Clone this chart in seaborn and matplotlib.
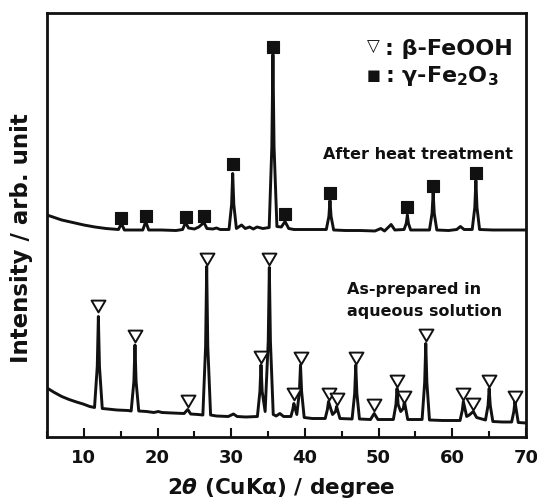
import numpy as np
import pandas as pd
import matplotlib
matplotlib.use("Agg")
import matplotlib.pyplot as plt
from matplotlib.path import Path
import seaborn as sns

# ---------------- data (2theta in degrees, intensity in arbitrary units) ----------------
# As-prepared in aqueous solution (lower trace), vertices
asprep_x = [5.0, 6.0, 7.0, 8.0, 9.0, 9.9, 10.8, 11.45, 11.82, 11.97, 12.12, 12.5,
            13.2, 14.5, 16.0, 16.42, 16.79, 16.94, 17.09, 17.45,
            18.5, 19.5, 20.1, 20.6, 22.0, 23.6, 24.1, 24.5, 25.5, 26.15,
            26.52, 26.67, 26.82, 27.2, 28.0, 29.6, 30.3, 30.8, 32.0, 33.55,
            33.89, 34.04, 34.2, 34.6, 35.02, 35.17, 35.32, 35.7,
            36.1, 36.6, 37.1, 38.1, 38.35, 38.5, 38.9, 39.25, 39.4, 39.55, 39.9,
            41.0, 42.75, 43.05, 43.2, 43.75, 44.15, 44.3, 44.75, 46.4,
            46.75, 46.9, 47.05, 47.4, 48.9, 49.4, 49.9, 52.0,
            52.35, 52.5, 52.65, 53.0, 53.35, 53.5, 53.95, 55.9,
            56.25, 56.4, 56.55, 56.9, 58.7, 61.05,
            61.35, 61.5, 61.95, 62.3, 62.85, 63.3, 64.5,
            64.85, 65.0, 65.15, 65.5, 66.8, 68.05, 68.35, 68.5, 68.95, 70.0]
asprep_y = [48.5, 44, 40, 37, 34.5, 32.5, 30, 29, 70, 120, 70, 28,
            27.5, 26.5, 26, 25.5, 55, 91.5, 55, 25.5,
            25, 24, 25, 24, 23.5, 23, 27, 22.5, 22, 21.5,
            90, 170, 90, 21.5, 20.5, 20, 22.5, 20, 19.5, 20,
            45, 71.5, 45, 25, 95, 169, 95, 22,
            20.5, 23, 20, 20, 27, 33, 22, 45, 71.5, 45, 19,
            18, 18, 27, 35, 22, 25, 30, 18, 17.5,
            43, 71.5, 43, 17.5, 17, 23, 17, 17,
            32, 48, 32, 25, 28, 35, 17, 17,
            54, 93, 54, 16.5, 16, 16,
            26, 35, 20, 21.5, 25, 19, 16.5,
            31, 48, 31, 15, 14.5, 14.5, 25, 35, 14, 13.5]

# After heat treatment (upper trace)
heat_x = [5.0, 6.0, 7.0, 8.5, 10.0, 11.5, 13.0, 14.7, 15.1, 15.5, 17.0, 18.0, 18.4, 18.8,
          20.5, 22.5, 23.4, 23.8, 24.2, 25.0, 25.6, 26.3, 26.7, 27.5, 28.0, 28.5, 29.7,
          30.05, 30.2, 30.35, 30.7, 31.4, 31.9, 32.5, 33.0, 33.5, 34.3, 35.15,
          35.51, 35.66, 35.81, 36.2, 36.8, 37.3, 37.8, 38.5, 40.0, 42.9,
          43.25, 43.4, 43.55, 43.9, 45.5, 47.5, 49.5, 50.3, 50.8, 51.7, 52.2, 53.45,
          53.75, 53.9, 54.05, 54.35, 56.9,
          57.25, 57.4, 57.55, 57.9, 59.5, 60.6, 61.1, 61.6, 62.7,
          63.05, 63.2, 63.35, 63.7, 65.5, 67.5, 70.0]
heat_y = [221.5, 219, 216.5, 214, 211.5, 209.5, 208, 207, 213, 206.5, 206.5, 206.5, 215, 206.5,
          206.5, 206, 207, 214, 208.5, 207.5, 209.5, 214, 208, 207.5, 208.5, 207, 207,
          232, 263, 232, 208, 211.5, 208, 209.5, 207.5, 209.5, 208, 209,
          290, 382, 290, 210, 209.5, 215, 208, 207, 207, 207,
          220, 236, 220, 206.5, 206, 206, 205.5, 208, 205.5, 212, 206.5, 207,
          213, 221.5, 213, 206.5, 206.5,
          223, 244, 223, 206.5, 206, 207, 210, 207, 207,
          229, 256, 229, 207, 206.5, 206.5, 206.5]

# Phase markers
beta_x = [11.97, 16.94, 24.1, 26.67, 34.04, 35.17, 38.5, 39.4, 43.2, 44.3, 46.9,
          49.4, 52.5, 53.5, 56.4, 61.5, 62.85, 65.0, 68.5]
beta_y = [130.5, 100.5, 36, 177.5, 79.5, 177.5, 42.5, 79, 43, 37.5, 79,
          31.5, 55.5, 40, 101.5, 43, 33, 55.5, 40]
gamma_x = [15.1, 18.4, 23.8, 26.3, 30.2, 35.66, 37.3, 43.4, 53.9, 57.4, 63.2]
gamma_y = [218.8, 220.5, 219.8, 220.5, 272.5, 389.6, 223.0, 243.8, 229.2, 250.8, 263.2]

x_major = [10, 20, 30, 40, 50, 60, 70]
x_minor = [5, 15, 25, 35, 45, 55, 65]

# ---------------- style ----------------
sns.set_theme(style="white")
plt.rcParams['font.family'] = ['DejaVu Sans']
plt.rcParams['font.weight'] = 'bold'
plt.rcParams['mathtext.fontset'] = 'custom'
plt.rcParams['mathtext.rm'] = 'DejaVu Sans:bold'
plt.rcParams['mathtext.it'] = 'DejaVu Sans:italic'
plt.rcParams['mathtext.bf'] = 'DejaVu Sans:bold'

INK = '#111111'
fig = plt.figure(figsize=(5.37, 5.01), dpi=100)
ax = fig.add_axes([47 / 537, 1 - 436.5 / 501, (526 - 47) / 537, (436.5 - 12.7) / 501])

df_a = pd.DataFrame({'two_theta': asprep_x, 'intensity': asprep_y})
df_h = pd.DataFrame({'two_theta': heat_x, 'intensity': heat_y})
sns.lineplot(data=df_a, x='two_theta', y='intensity', ax=ax, color=INK, lw=2.1,
             sort=False, estimator=None)
sns.lineplot(data=df_h, x='two_theta', y='intensity', ax=ax, color=INK, lw=2.1,
             sort=False, estimator=None)

tri = Path([(-1, 0.85), (1, 0.85), (0, -0.85), (-1, 0.85)],
           [Path.MOVETO, Path.LINETO, Path.LINETO, Path.CLOSEPOLY])
sns.scatterplot(x=beta_x, y=beta_y, ax=ax, marker=tri, s=100, facecolor='white',
                edgecolor=INK, linewidth=1.4, zorder=5)
sns.scatterplot(x=gamma_x, y=gamma_y, ax=ax, marker='s', s=64, color=INK,
                edgecolor=INK, linewidth=0.8, zorder=5)

ax.set_xlim(5, 70)
ax.set_ylim(0, 423.8)
ax.set_xticks(x_major)
ax.set_xticks(x_minor, minor=True)
ax.set_xticklabels([str(v) for v in x_major], fontsize=13, fontweight='bold')
ax.set_yticks([])
ax.tick_params(axis='x', which='both', direction='in', bottom=True, top=False,
               color=INK, width=1.5, pad=9, labelcolor=INK)
ax.tick_params(axis='x', which='major', length=6.5)
ax.tick_params(axis='x', which='minor', length=4.5)
for sp in ax.spines.values():
    sp.set_color(INK)
    sp.set_linewidth(2.0)

ax.set_xlabel('')
ax.set_ylabel('')
fig.text(281 / 537, 1 - 494 / 501, r'2$\theta$ (CuKα) / degree', ha='center',
         va='baseline', fontsize=15.5, fontweight='bold', color=INK)
fig.text(22 / 537, 1 - 238 / 501, 'Intensity / arb. unit', ha='center', va='center',
         rotation=90, fontsize=16.5, fontweight='bold', color=INK)

# legend-like labels
ax.text(49.28, 390.0, '▽', ha='center', va='center', fontsize=12, color=INK,
        fontweight='normal')
ax.text(50.9, 381.5, ': β-FeOOH', ha='left', va='baseline', fontsize=16,
        fontweight='bold', color=INK)
ax.text(49.28, 361.5, '■', ha='center', va='center', fontsize=10.5, color=INK,
        fontweight='normal')
ax.text(50.9, 354.5, r': γ-Fe$_\mathrm{2}$O$_\mathrm{3}$', ha='left', va='baseline',
        fontsize=16, fontweight='bold', color=INK)

ax.text(68.3, 277.5, 'After heat treatment', ha='right', va='baseline', fontsize=11.5,
        fontweight='bold', color=INK)
ax.text(45.66, 142.5, 'As-prepared in', ha='left', va='baseline', fontsize=11.5,
        fontweight='bold', color=INK)
ax.text(45.66, 120.5, 'aqueous solution', ha='left', va='baseline', fontsize=11.5,
        fontweight='bold', color=INK)

fig.savefig('out.png', dpi=100, facecolor='white')
